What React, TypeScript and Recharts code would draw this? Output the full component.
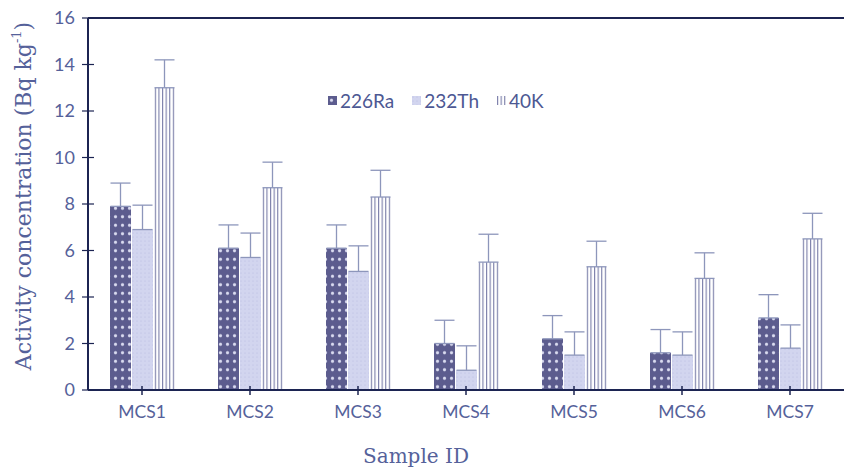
import React from "react";
import { Bar, BarChart, ErrorBar, Label, ReferenceLine, XAxis, YAxis } from "recharts";

const samples = ["MCS1", "MCS2", "MCS3", "MCS4", "MCS5", "MCS6", "MCS7"];
const ra226 = [7.9, 6.1, 6.1, 2.0, 2.2, 1.6, 3.1];
const ra226Err = [1.0, 1.0, 1.0, 1.0, 1.0, 1.0, 1.0];
const th232 = [6.9, 5.7, 5.1, 0.85, 1.5, 1.5, 1.8];
const th232Err = [1.05, 1.05, 1.1, 1.05, 1.0, 1.0, 1.0];
const k40 = [13.0, 8.7, 8.3, 5.5, 5.3, 4.8, 6.5];
const k40Err = [1.2, 1.1, 1.15, 1.2, 1.1, 1.1, 1.1];
const yTicks = [0, 2, 4, 6, 8, 10, 12, 14, 16];

const seriesNames = ["226Ra", "232Th", "40K"];

const data = samples.map((s, i) => ({
  sample: s,
  ra: ra226[i],
  raErr: [0, ra226Err[i]],
  th: th232[i],
  thErr: [0, th232Err[i]],
  k: k40[i],
  kErr: [0, k40Err[i]],
}));

const navy = "#1c2452";
const textColor = "#55619a";
const errColor = "#8d96bb";
const sans = "Lato, 'Open Sans', sans-serif";
const serif = "'DejaVu Serif', 'Liberation Serif', serif";

function Patterns() {
  return (
    <svg width={0} height={0} style={{ position: "absolute" }}>
      <defs>
        <pattern id="raPat" width={7} height={8.5} patternUnits="userSpaceOnUse">
          <rect width={7} height={8.5} fill="#5c5c8e" />
          <circle cx={3.5} cy={4.2} r={1.6} fill="#d9dbef" />
        </pattern>
        <pattern id="thPat" width={4} height={4} patternUnits="userSpaceOnUse">
          <rect width={4} height={4} fill="#d2d5ef" />
          <circle cx={1} cy={1} r={0.6} fill="#b9bde0" />
        </pattern>
        <pattern id="kPat" width={3.6} height={10} patternUnits="userSpaceOnUse">
          <rect width={3.6} height={10} fill="#ffffff" />
          <line x1={0.6} y1={0} x2={0.6} y2={10} stroke="#6b6f9f" strokeWidth={1} />
        </pattern>
      </defs>
    </svg>
  );
}

const YTick = (props: any) => {
  const { x, y, payload } = props;
  return (
    <g>
      <line x1={x - 6} y1={y} x2={x + 6} y2={y} stroke={navy} strokeWidth={1.2} />
      <text x={x - 13} y={y + 6} textAnchor="end" fontSize={18} fontFamily={sans} fill={textColor}>
        {payload.value}
      </text>
    </g>
  );
};

const XTick = (props: any) => {
  const { x, y, payload } = props;
  return (
    <g>
      <line x1={x} y1={y - 4} x2={x} y2={y + 5} stroke={navy} strokeWidth={1.5} />
      <text x={x} y={y + 28} textAnchor="middle" fontSize={17.5} fontFamily={sans} fill={textColor}>
        {payload.value}
      </text>
    </g>
  );
};

const legendFills = ["url(#raPat)", "url(#thPat)", "url(#kPat)"];

function ChartLegend() {
  return (
    <div
      style={{
        position: "absolute",
        top: 89,
        left: 328,
        display: "flex",
        alignItems: "center",
        fontFamily: sans,
        fontSize: 19,
        color: "#4d5893",
      }}
    >
      {seriesNames.map((n, i) => (
        <div key={n} style={{ display: "flex", alignItems: "center", marginRight: 18 }}>
          <svg width={9} height={9} style={{ marginRight: 3 }}>
            <rect width={9} height={9} fill={legendFills[i]} />
          </svg>
          <span>{n}</span>
        </div>
      ))}
    </div>
  );
}

export default function App() {
  return (
    <div style={{ position: "absolute", top: 0, left: 0, width: 844, height: 472, background: "#fff" }}>
      <Patterns />
      <BarChart
        width={844}
        height={472}
        data={data}
        margin={{ top: 18, right: 0, bottom: 0, left: 0 }}
        barGap={1}
        barSize={21}
      >
        <XAxis
          dataKey="sample"
          height={82}
          stroke={navy}
          strokeWidth={2}
          tickLine={false}
          tickSize={0}
          tickMargin={0}
          tick={<XTick />}
          interval={0}
        >
          <Label
            content={(p: any) => {
              const vb = p.viewBox || {};
              return (
                <text x={vb.x + vb.width / 2 - 50} y={463} textAnchor="middle" fontSize={20} fontFamily={serif} fill={textColor}>
                  Sample ID
                </text>
              );
            }}
          />
        </XAxis>
        <YAxis
          width={88}
          domain={[0, 16]}
          ticks={yTicks}
          stroke={navy}
          strokeWidth={2}
          tickLine={false}
          tickSize={0}
          tickMargin={0}
          tick={<YTick />}
          interval={0}
        >
          <Label
            content={(p: any) => {
              const vb = p.viewBox || {};
              const cx = 23;
              const cy = vb.y + vb.height / 2 - 8;
              return (
                <text
                  x={cx}
                  y={cy}
                  transform={`rotate(-90, ${cx}, ${cy})`}
                  textAnchor="middle"
                  dominantBaseline="central"
                  fontSize={22}
                  fontFamily={serif}
                  fill={textColor}
                >
                  Activity concentration (Bq kg<tspan dy={-7} fontSize={13}>-1</tspan><tspan dy={7}>)</tspan>
                </text>
              );
            }}
          />
        </YAxis>
        <ReferenceLine y={16} stroke={navy} strokeWidth={2} />
        <Bar dataKey="ra" name={seriesNames[0]} fill="url(#raPat)" isAnimationActive={false}>
          <ErrorBar dataKey="raErr" width={10} stroke={errColor} strokeWidth={1.3} direction="y" />
        </Bar>
        <Bar dataKey="th" name={seriesNames[1]} fill="url(#thPat)" isAnimationActive={false}>
          <ErrorBar dataKey="thErr" width={10} stroke={errColor} strokeWidth={1.3} direction="y" />
        </Bar>
        <Bar dataKey="k" name={seriesNames[2]} fill="url(#kPat)" isAnimationActive={false}>
          <ErrorBar dataKey="kErr" width={10} stroke={errColor} strokeWidth={1.3} direction="y" />
        </Bar>
      </BarChart>
      <ChartLegend />
    </div>
  );
}
